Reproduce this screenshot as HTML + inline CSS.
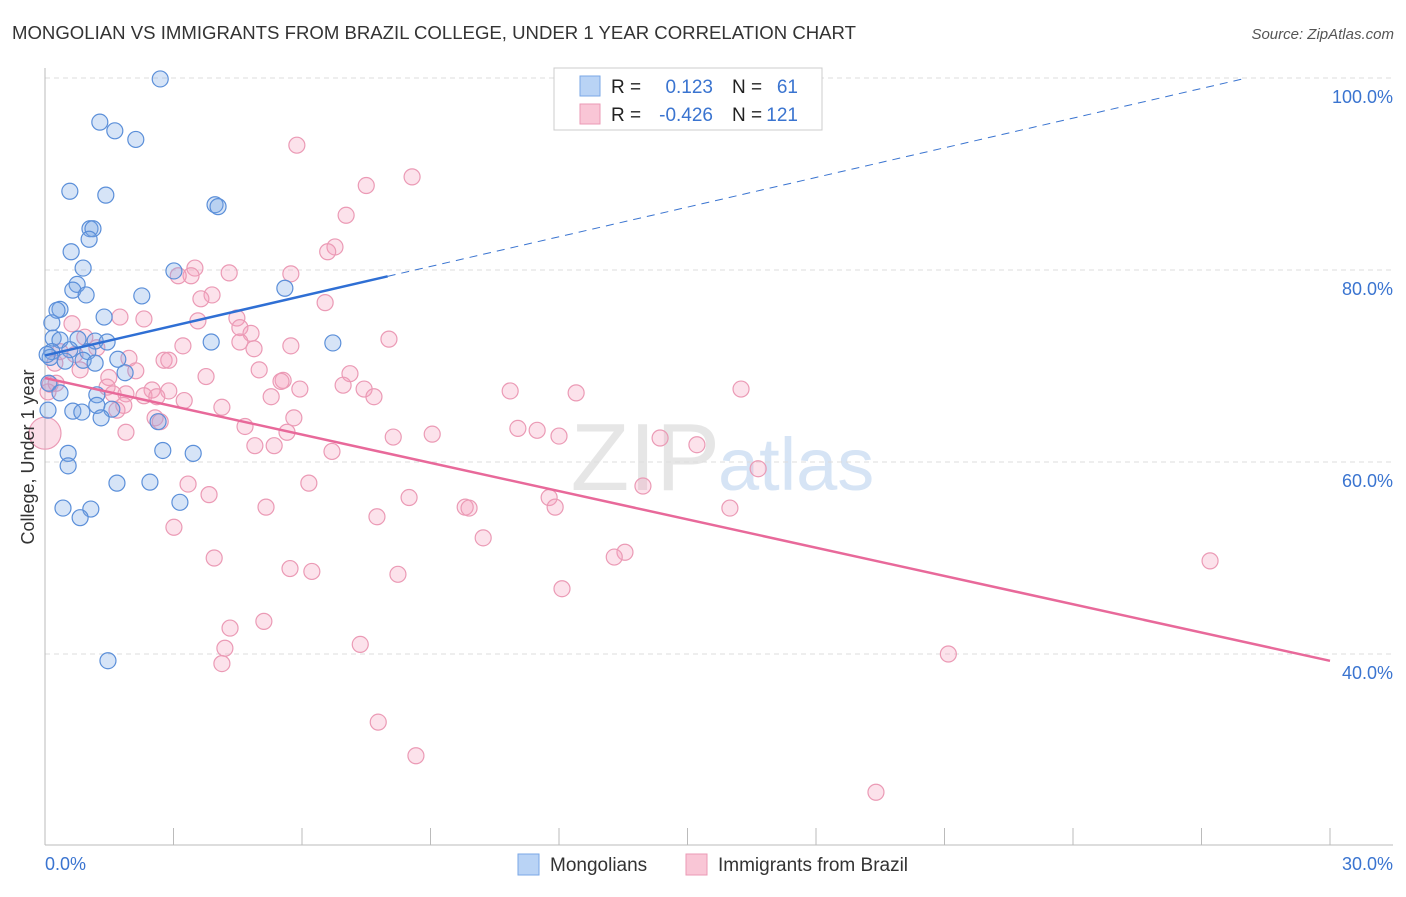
<!DOCTYPE html>
<html><head><meta charset="utf-8"><style>
body{margin:0;background:#fff;font-family:"Liberation Sans",sans-serif}
svg text{font-family:"Liberation Sans",sans-serif}
</style></head><body>
<svg id="chart" width="1406" height="892">
<text x="12" y="39" font-size="18" fill="#333" textLength="844" lengthAdjust="spacingAndGlyphs">MONGOLIAN VS IMMIGRANTS FROM BRAZIL COLLEGE, UNDER 1 YEAR CORRELATION CHART</text>
<text x="1394" y="39" font-size="15" fill="#555" font-style="italic" text-anchor="end">Source: ZipAtlas.com</text>
<text x="720" y="490" font-size="96" fill="#e6e6e6" text-anchor="end" font-family="Liberation Serif">ZIP</text>
<text x="718" y="490" font-size="74" fill="#d6e4f5">atlas</text>
<g id="grid"></g><g id="axes"></g><g id="marks"></g>
<text transform="translate(34,457) rotate(-90)" font-size="18" fill="#333" text-anchor="middle">College, Under 1 year</text>
<g>
<rect x="554" y="68" width="268" height="62" fill="#fff" stroke="#ccc"/>
<rect x="580" y="76" width="20" height="20" fill="#b9d3f5" stroke="#7aa7e6"/>
<rect x="580" y="104" width="20" height="20" fill="#f9c6d6" stroke="#eb9ab5"/>
<text x="611" y="93" font-size="19" fill="#222">R =</text><text x="713" y="93" font-size="19" fill="#3a74d0" text-anchor="end">0.123</text>
<text x="732" y="93" font-size="19" fill="#222">N =</text><text x="798" y="93" font-size="19" fill="#3a74d0" text-anchor="end">61</text>
<text x="611" y="121" font-size="19" fill="#222">R =</text><text x="713" y="121" font-size="19" fill="#3a74d0" text-anchor="end">-0.426</text>
<text x="732" y="121" font-size="19" fill="#222">N =</text><text x="798" y="121" font-size="19" fill="#3a74d0" text-anchor="end">121</text>
</g>
<g>
<rect x="518" y="854" width="21" height="21" fill="#b9d3f5" stroke="#7aa7e6"/>
<text x="550" y="871" font-size="19" fill="#333">Mongolians</text>
<text x="718" y="871" font-size="19" fill="#333">Immigrants from Brazil</text>
<rect x="686" y="854" width="21" height="21" fill="#f9c6d6" stroke="#eb9ab5"/>
</g>
</svg>
<script>
const yTicks=[40,60,80,100];
const yTickLabels=["40.0%","60.0%","80.0%","100.0%"];
const xTicks=[0,3,6,9,12,15,18,21,24,27,30];
const xTickLabels=["0.0%","30.0%"];
const blueX=[2.69,1.28,1.63,2.12,0.58,1.42,3.97,4.04,1.05,1.12,1.03,0.61,0.89,3.01,0.75,0.65,0.96,2.26,5.60,0.35,0.28,1.38,0.16,0.19,0.35,0.77,1.17,1.45,3.88,6.72,0.16,0.58,1.00,0.12,0.47,0.89,1.17,1.70,1.87,0.09,0.35,1.21,1.56,1.21,0.65,0.86,1.31,2.64,2.75,3.46,0.54,0.54,1.68,2.45,3.15,0.42,1.07,0.82,1.47,0.07,0.05];
const blueY=[99.9,95.4,94.5,93.6,88.2,87.8,86.8,86.6,84.3,84.3,83.2,81.9,80.2,79.9,78.5,77.9,77.4,77.3,78.1,75.9,75.8,75.1,74.5,72.9,72.7,72.8,72.6,72.5,72.5,72.4,71.5,71.7,71.5,70.9,70.5,70.6,70.3,70.7,69.3,68.2,67.2,67.0,65.5,65.9,65.3,65.2,64.6,64.2,61.2,60.9,60.9,59.6,57.8,57.9,55.8,55.2,55.1,54.2,39.3,65.4,71.2];
const pinkX=[5.88,8.57,7.50,7.03,6.77,6.60,3.50,3.41,4.30,5.74,3.11,3.90,3.64,6.54,1.75,2.31,4.48,3.57,0.63,4.55,4.81,0.93,8.03,4.55,5.74,3.22,1.21,4.88,0.35,0.70,1.96,2.78,2.89,0.23,0.82,2.12,5.00,7.12,3.76,1.49,5.56,5.51,0.12,0.26,6.96,1.45,7.45,5.95,2.50,2.89,16.25,10.86,12.40,1.89,1.59,7.68,5.28,2.31,2.61,3.25,1.84,4.13,1.68,5.81,2.57,2.69,4.67,11.04,11.49,1.89,5.65,9.04,8.13,12.00,14.36,15.22,4.90,5.35,6.70,16.65,6.16,13.96,3.83,8.50,11.77,3.34,5.16,9.81,9.90,11.91,15.99,7.75,3.01,10.23,13.54,13.29,3.95,27.20,5.72,6.23,8.24,12.07,5.11,4.32,7.36,4.20,21.09,4.13,7.78,8.66,19.40,0.07];
const pinkY=[93.0,89.7,88.8,85.7,82.4,81.9,80.2,79.4,79.7,79.6,79.4,77.4,77.0,76.6,75.1,74.9,75.0,74.7,74.4,74.0,73.4,73.0,72.8,72.5,72.1,72.1,71.9,71.8,71.5,71.2,70.8,70.6,70.6,70.3,69.6,69.5,69.6,69.2,68.9,68.8,68.5,68.4,68.1,68.2,68.0,67.8,67.6,67.6,67.5,67.4,67.6,67.4,67.2,67.1,67.1,66.8,66.8,66.9,66.8,66.4,65.9,65.7,65.4,64.6,64.6,64.2,63.7,63.5,63.3,63.1,63.1,62.9,62.6,62.7,62.5,61.8,61.7,61.7,61.1,59.3,57.8,57.5,56.6,56.3,56.3,57.7,55.3,55.3,55.2,55.3,55.2,54.3,53.2,52.1,50.6,50.1,50.0,49.7,48.9,48.6,48.3,46.8,43.4,42.7,41.0,40.6,40.0,39.0,32.9,29.4,25.6,67.3];
const bigPink=[[0,63.0]];
const blueTrend=[71.1,1.03,8];
const pinkTrend=[68.75,-0.982];
const NS="http://www.w3.org/2000/svg";
const X=v=>45+v/30*1285, Y=v=>78+(100-v)/20*192;
function mk(tag,attrs,parent){const e=document.createElementNS(NS,tag);for(const k in attrs)e.setAttribute(k,attrs[k]);document.getElementById(parent).appendChild(e);return e;}
yTicks.forEach((t,i)=>{
 const g=mk('line',{x1:45,x2:1393,y1:Y(t),y2:Y(t),stroke:'#ddd','stroke-dasharray':'5,4'},'grid');
 
 
 const l=mk('text',{x:1393,y:Y(t)+25,'font-size':18,fill:'#3a74d0','text-anchor':'end'},'axes');l.textContent=yTickLabels[i];
 
 
});
let a=mk('line',{x1:45,x2:45,y1:68,y2:845,stroke:'#bbb'},'axes');


a=mk('line',{x1:45,x2:1393,y1:845,y2:845,stroke:'#bbb'},'axes');


xTicks.forEach(t=>{const e=mk('line',{x1:X(t),x2:X(t),y1:828,y2:845,stroke:'#bbb'},'axes');
 
 });
let tl=mk('text',{x:45,y:870,'font-size':18,fill:'#3a74d0'},'axes');tl.textContent=xTickLabels[0];


tl=mk('text',{x:1393,y:870,'font-size':18,fill:'#3a74d0','text-anchor':'end'},'axes');tl.textContent=xTickLabels[1];


pinkX.forEach((x,i)=>{const c=mk('circle',{cx:X(x),cy:Y(pinkY[i]),r:8,fill:'rgba(244,160,190,0.3)',stroke:'#eb9ab5','stroke-width':1.2},'marks');
 
 });
bigPink.forEach(p=>{const c=mk('circle',{cx:X(p[0]),cy:Y(p[1]),r:16,fill:'rgba(244,160,190,0.35)',stroke:'#eb9ab5','stroke-width':1.2},'marks');
 
 });
blueX.forEach((x,i)=>{const c=mk('circle',{cx:X(x),cy:Y(blueY[i]),r:8,fill:'rgba(120,165,230,0.3)',stroke:'#5b8fd9','stroke-width':1.2},'marks');
 
 });
const bAt=x=>blueTrend[0]+blueTrend[1]*x;
const xEnd=(100-blueTrend[0])/blueTrend[1];
let ln=mk('line',{x1:X(blueTrend[2]),y1:Y(bAt(blueTrend[2])),x2:X(xEnd),y2:Y(100),stroke:'#3a74d0','stroke-width':1,'stroke-dasharray':'8,6'},'marks');


ln=mk('line',{x1:X(0),y1:Y(bAt(0)),x2:X(blueTrend[2]),y2:Y(bAt(blueTrend[2])),stroke:'#2f6fd4','stroke-width':2.5},'marks');


ln=mk('line',{x1:X(0),y1:Y(pinkTrend[0]),x2:X(30),y2:Y(pinkTrend[0]+pinkTrend[1]*30),stroke:'#e8699a','stroke-width':2.5},'marks');


</script>
</body></html>
